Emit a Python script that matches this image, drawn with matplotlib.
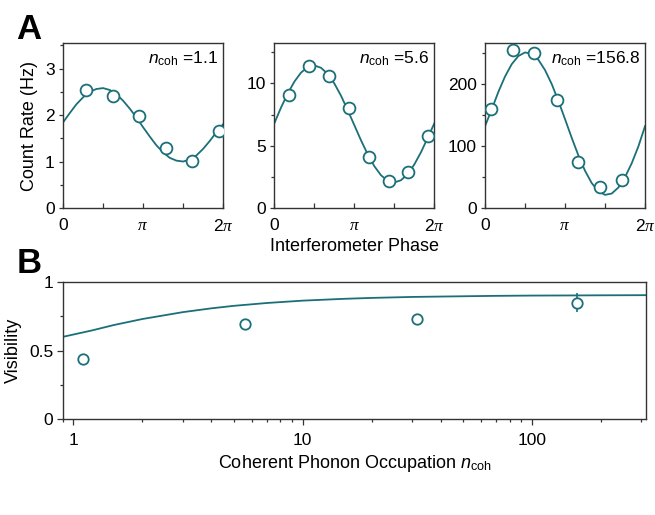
import matplotlib
matplotlib.use("Agg")
import matplotlib.pyplot as plt
import numpy as np
from matplotlib.ticker import FixedLocator, NullFormatter, LogLocator

plt.rcParams["font.family"] = ["Liberation Sans", "DejaVu Sans"]
plt.rcParams["mathtext.fontset"] = "custom"
plt.rcParams["mathtext.rm"] = "Liberation Sans"
plt.rcParams["mathtext.it"] = "Liberation Serif:italic"
plt.rcParams["mathtext.sf"] = "Liberation Sans:italic"

TEAL = "#1b6f78"
SPINE = "#333333"

# ---- panel A: measured count rates (phase in units of 2*pi) ----
a1_phase = [0.144, 0.314, 0.473, 0.642, 0.808, 0.975]
a1_rate = [2.53, 2.41, 1.97, 1.30, 1.01, 1.65]
a1_err = [0.13, 0.09, 0.05, 0.05, 0.04, 0.06]

a2_phase = [0.090, 0.215, 0.342, 0.469, 0.592, 0.717, 0.836, 0.961]
a2_rate = [9.10, 11.42, 10.61, 8.02, 4.13, 2.16, 2.91, 5.75]
a2_err = [0.2, 0.2, 0.2, 0.2, 0.15, 0.1, 0.1, 0.15]

a3_phase = [0.0375, 0.177, 0.308, 0.448, 0.583, 0.721, 0.856]
a3_rate = [159.6, 254.7, 250.4, 173.6, 74.6, 34.1, 44.9]
a3_err = [3, 4, 4, 3, 2, 2, 2]

# fitted curves, every pi/12
fit_phase = [k / 24 for k in range(25)]
a1_fit = [1.84, 2.04, 2.23, 2.38, 2.50, 2.56, 2.58, 2.54, 2.45, 2.31, 2.14, 1.95, 1.74,
          1.54, 1.35, 1.20, 1.08, 1.02, 1.00, 1.04, 1.13, 1.27, 1.44, 1.63, 1.80]
a2_fit = [6.80, 8.06, 9.18, 10.14, 10.87, 11.31, 11.45, 11.26, 10.77, 10.00, 9.02, 7.87, 6.65,
          5.44, 4.32, 3.36, 2.63, 2.19, 2.05, 2.23, 2.72, 3.50, 4.48, 5.63, 6.80]
a3_fit = [132, 158.8, 187.2, 212.0, 231.8, 245.0, 250.8, 248.7, 239.0, 222.3, 199.9, 172.7, 143.2,
          113.2, 84.8, 60.0, 40.2, 27.0, 21.2, 23.3, 33.0, 49.8, 72.1, 99.3, 132]

n_labels = ["1.1", "5.6", "156.8"]

# ---- panel B: visibility vs coherent occupation ----
b_n = [1.1, 5.6, 31.5, 156.8]
b_vis = [0.44, 0.69, 0.73, 0.85]
b_err = [0.015, 0.015, 0.015, 0.07]

b_fit_n = [0.9, 1.2, 1.5, 2, 3, 4, 5, 7, 10, 15, 20, 30, 50, 70, 100, 150, 200, 320]
b_fit_v = [0.600, 0.646, 0.686, 0.730, 0.780, 0.808, 0.826, 0.847, 0.864, 0.877,
           0.884, 0.891, 0.896, 0.899, 0.901, 0.902, 0.903, 0.904]


def style_spines(ax):
    for s in ax.spines.values():
        s.set_color(SPINE)
        s.set_linewidth(1.0)


fig = plt.figure(figsize=(6.55, 5.15), dpi=100)

panels = [
    (a1_phase, a1_rate, a1_err, a1_fit, 3.55, [0, 1, 2, 3], 0.5),
    (a2_phase, a2_rate, a2_err, a2_fit, 13.25, [0, 5, 10], 2.5),
    (a3_phase, a3_rate, a3_err, a3_fit, 266, [0, 100, 200], 50),
]
lefts = [0.0962, 0.4188, 0.7405]

axes_a = []
for i, (ph, rate, err, fit, ytop, yt, ymin_step) in enumerate(panels):
    ax = fig.add_axes([lefts[i], 0.5961, 0.2443, 0.3204])
    x_pts = 2 * np.pi * np.array(ph)
    x_fit = 2 * np.pi * np.array(fit_phase)
    ax.plot(x_fit, fit, color=TEAL, lw=1.3, zorder=2)
    ax.errorbar(x_pts, rate, yerr=err, fmt="o", ms=8.5, mfc="white", mec=TEAL, mew=1.3,
                ecolor=TEAL, elinewidth=1.2, capsize=0, zorder=3)
    ax.set_xlim(0, 2 * np.pi)
    ax.set_ylim(0, ytop)
    ax.set_yticks(yt)
    ax.yaxis.set_minor_locator(FixedLocator(np.arange(0, ytop, ymin_step)))
    ax.set_xticks([0, np.pi, 2 * np.pi])
    ax.set_xticklabels(["0", r"$\pi$", r"2$\pi$"])
    ax.xaxis.set_minor_locator(FixedLocator([np.pi / 2, 3 * np.pi / 2]))
    ax.tick_params(axis="x", which="both", direction="in", length=3.5, width=0.9,
                   color=SPINE, labelsize=12.5, pad=7)
    ax.tick_params(axis="y", which="major", direction="out", length=3, width=0.9,
                   color=SPINE, labelsize=12.5, pad=3)
    ax.tick_params(axis="y", which="minor", direction="out", length=2, width=0.9, color=SPINE)
    style_spines(ax)
    ax.text(0.97, 0.96, r"$\mathsf{n}_{\mathrm{coh}}$ =" + n_labels[i], transform=ax.transAxes,
            ha="right", va="top", fontsize=12.5)
    axes_a.append(ax)

axes_a[0].set_ylabel("Count Rate (Hz)", fontsize=13, labelpad=5)
axes_a[1].set_xlabel("Interferometer Phase", fontsize=13, labelpad=3)

axb = fig.add_axes([0.0962, 0.1864, 0.890, 0.266])
axb.plot(b_fit_n, b_fit_v, color=TEAL, lw=1.3, zorder=2)
axb.errorbar(b_n, b_vis, yerr=b_err, fmt="o", ms=7.5, mfc="white", mec=TEAL, mew=1.3,
             ecolor=TEAL, elinewidth=1.2, capsize=0, zorder=3)
axb.set_xscale("log")
axb.set_xlim(0.9, 315)
axb.set_ylim(0, 1)
axb.set_xticks([1, 10, 100])
axb.set_xticklabels(["1", "10", "100"])
axb.xaxis.set_minor_locator(LogLocator(base=10, subs=np.arange(2, 10)))
axb.xaxis.set_minor_formatter(NullFormatter())
axb.set_yticks([0, 0.5, 1])
axb.set_yticklabels(["0", "0.5", "1"])
axb.yaxis.set_minor_locator(FixedLocator([0.25, 0.75]))
axb.tick_params(axis="both", which="major", direction="out", length=4, width=0.9,
                color=SPINE, labelsize=12.5, pad=3)
axb.tick_params(axis="x", which="major", pad=6)
axb.tick_params(axis="both", which="minor", direction="out", length=2.5, width=0.9, color=SPINE)
style_spines(axb)
axb.set_ylabel("Visibility", fontsize=13, labelpad=5)
axb.set_xlabel(r"Coherent Phonon Occupation $\mathsf{n}_{\mathrm{coh}}$", fontsize=13, labelpad=4)

fig.text(0.025, 0.975, "A", fontsize=25, fontweight="bold", va="top", ha="left")
fig.text(0.025, 0.52, "B", fontsize=25, fontweight="bold", va="top", ha="left")

fig.savefig("out.png", dpi=100)
